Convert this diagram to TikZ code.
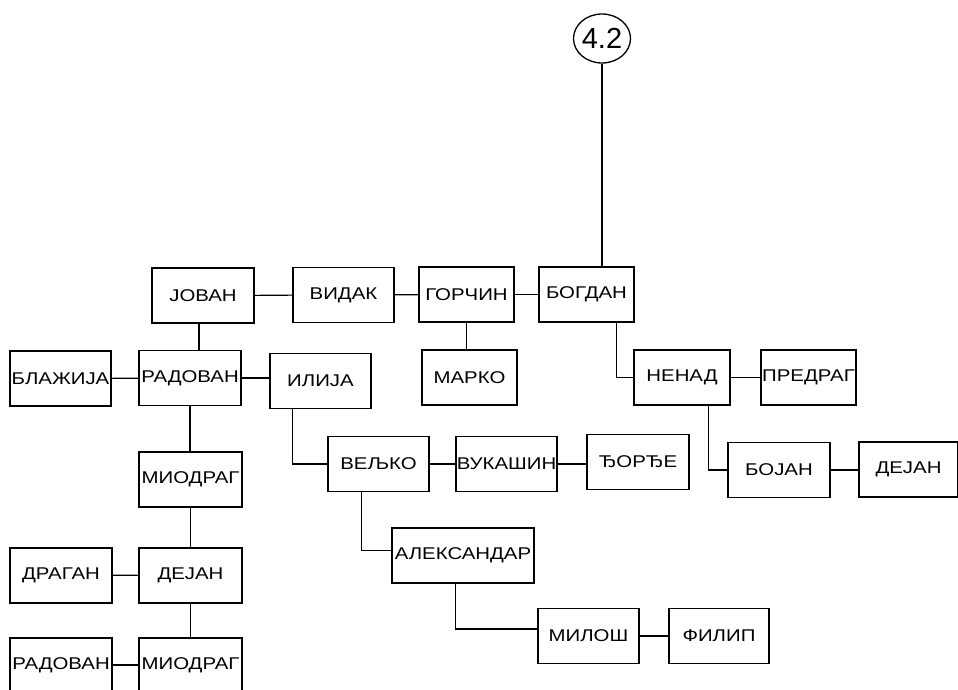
\documentclass[tikz,border=0pt]{standalone}
\usepackage{fontspec}
\setmainfont{Liberation Sans}[FakeStretch=1.2]
\newfontfamily\plainfont{Liberation Sans}
\usetikzlibrary{shapes.geometric}
\tikzset{
  person/.style={draw, line width=1.2pt, minimum width=101pt, minimum height=55pt,
    inner sep=0pt, font=\fontsize{17}{19}\selectfont},
  heavy/.style={line width=2pt},
  link/.style={line width=1.1pt}
}
\begin{document}
\begin{tikzpicture}[x=1pt,y=-1pt]
  \useasboundingbox (0,0) rectangle (958,690);
  \clip (0,0) rectangle (958,690);
  % top
  \node[draw, ellipse, line width=1.3pt, minimum width=57pt, minimum height=49pt, inner sep=0pt,
    font=\plainfont\fontsize{29}{31}\selectfont] (ref) at (602,38.5) {4.2};
  % row 1
  \node[person, minimum width=102pt] (jovan) at (203,295.5) {ЈОВАН};
  \node[person] (vidak) at (343.5,295) {ВИДАК};
  \node[person, minimum width=95pt] (gorcin) at (466.5,294.5) {ГОРЧИН};
  \node[person, minimum width=95pt] (bogdan) at (586.5,294.5) {БОГДАН};
  % row 2
  \node[person, heavy] (blazija) at (60.5,378.5) {БЛАЖИЈА};
  \node[person, minimum width=102pt] (radovan) at (190,378) {РАДОВАН};
  \node[person] (ilija) at (320.5,381) {ИЛИЈА};
  \node[person, minimum width=95pt] (marko) at (469.5,377.5) {МАРКО};
  \node[person, minimum width=96pt] (nenad) at (682,377.5) {НЕНАД};
  \node[person, minimum width=95pt] (predrag) at (808.5,377.5) {ПРЕДРАГ};
  % row 3
  \node[person, heavy, minimum width=103pt] (miodrag) at (190.5,479.5) {МИОДРАГ};
  \node[person] (veljko) at (378.5,464) {ВЕЉКО};
  \node[person] (vukasin) at (506.5,464) {ВУКАШИН};
  \node[person, minimum width=102pt] (djordje) at (638,462) {ЂОРЂЕ};
  \node[person, minimum width=102pt] (bojan) at (779,470) {БОЈАН};
  \node[person, minimum width=99pt] (dejanb) at (908.5,469.5) {ДЕЈАН};
  % row 4
  \node[person, minimum width=142pt] (aleksandar) at (463,555.5) {АЛЕКСАНДАР};
  \node[person, heavy, minimum width=102pt] (dragan) at (61,575) {ДРАГАН};
  \node[person, heavy, minimum width=103pt] (dejan) at (190.5,575.5) {ДЕЈАН};
  % row 5
  \node[person] (milos) at (588.5,636) {МИЛОШ};
  \node[person, minimum width=100pt] (filip) at (719,636) {ФИЛИП};
  \node[person, heavy, minimum width=102pt] (radovanb) at (61,665) {РАДОВАН};
  \node[person, heavy, minimum width=103pt] (miodragb) at (190.5,665) {МИОДРАГ};

  % down from 4.2
  \draw[link] (ref.south) -- (ref.south |- bogdan.north);
  % row 1
  \draw[link] (jovan) -- (vidak);
  \draw[link] (vidak) -- (gorcin);
  \draw[link] (gorcin) -- (bogdan);
  \draw[link] ([xshift=-4pt]jovan.south) -- ([xshift=-4pt]jovan.south |- radovan.north);
  \draw[link] (gorcin.south) -- (gorcin.south |- marko.north);
  \draw[link] ([xshift=78pt]bogdan.south west) |- (nenad.west);
  % row 2
  \draw[link] (blazija) -- (radovan);
  \draw[link] (radovan) -- (radovan -| ilija.west);
  \draw[link] (nenad) -- (predrag);
  \draw[link] (radovan.south) -- (radovan.south |- miodrag.north);
  \draw[link] ([xshift=23pt]ilija.south west) |- (veljko.west);
  \draw[link] ([xshift=75pt]nenad.south west) |- (bojan.west);
  % row 3
  \draw[link] (veljko) -- (vukasin);
  \draw[link] (vukasin) -- (vukasin -| djordje.west);
  \draw[link] (bojan) -- (bojan -| dejanb.west);
  \draw[link] (miodrag) -- (dejan);
  \draw[link] ([xshift=34pt]veljko.south west) |- ([yshift=5pt]aleksandar.west);
  % row 4
  \draw[link] (dragan) -- (dejan);
  \draw[link] (dejan) -- (miodragb);
  \draw[link] ([xshift=64pt]aleksandar.south west) |- ([yshift=7pt]milos.west);
  % row 5
  \draw[link] (milos) -- (filip);
  \draw[link] (radovanb) -- (miodragb);
\end{tikzpicture}
\end{document}
